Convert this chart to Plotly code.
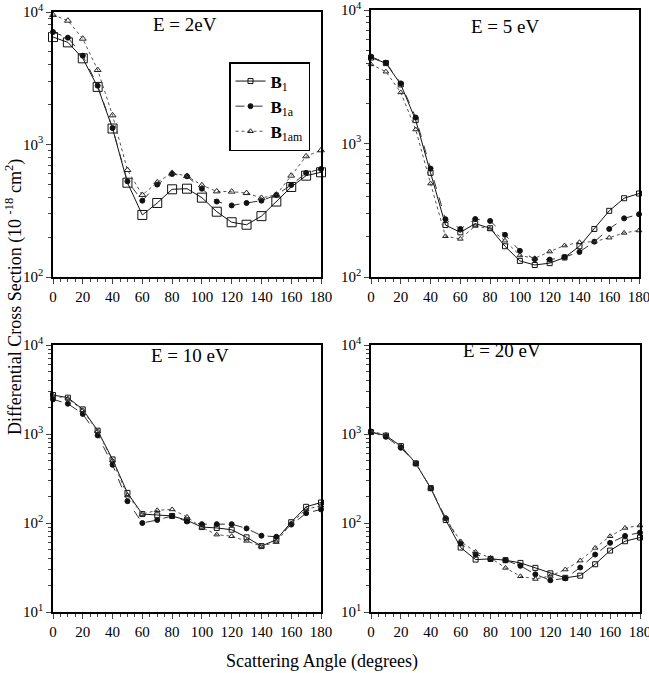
import plotly.graph_objects as go

angles = [0, 10, 20, 30, 40, 50, 60, 70, 80, 90, 100, 110, 120, 130, 140, 150, 160, 170, 180]

# E = 2 eV
b1_2 = [6470, 5900, 4470, 2720, 1320, 515, 294, 362, 459, 464, 397, 311, 259, 248, 288, 371, 478, 582, 617]
b1a_2 = [7060, 6400, 4680, 2780, 1330, 527, 377, 498, 599, 575, 464, 371, 347, 362, 377, 416, 495, 610, 653]
b1am_2 = [9500, 8600, 6290, 3650, 1660, 642, 416, 518, 610, 578, 492, 443, 441, 430, 395, 418, 582, 815, 904]

# E = 5 eV
b1_5 = [4400, 4000, 2770, 1496, 603, 245, 216, 251, 232, 170, 132, 123, 127, 140, 170, 229, 313, 389, 422]
b1a_5 = [4470, 4030, 2820, 1567, 649, 271, 229, 272, 263, 207, 157, 136, 135, 141, 154, 184, 229, 275, 295]
b1am_5 = [3913, 3450, 2413, 1273, 501, 202, 193, 241, 229, 187, 145, 138, 155, 172, 182, 184, 197, 214, 223]

# E = 10 eV
b1_10 = [2740, 2560, 1890, 1090, 518, 218, 126, 122, 120, 107, 90, 88, 84, 69, 55, 65, 102, 152, 170]
b1a_10 = [2450, 2190, 1680, 964, 451, 176, 100, 108, 120, 104, 97, 97, 97, 87, 72, 70, 96, 129, 142]
b1am_10 = [2700, 2500, 1850, 1070, 500, 204, 126, 139, 142, 117, 89, 74, 71, 63, 55, 61, 99, 143, 156]

# E = 20 eV
b1_20 = [1050, 960, 731, 467, 246, 108, 53, 38.8, 39.5, 38.2, 35.6, 31.3, 27.2, 24.2, 25.6, 34.4, 49, 62.4, 68.7]
b1a_20 = [1060, 930, 700, 467, 246, 113, 58.8, 44.2, 39.5, 38.2, 33, 26.5, 22.7, 23.9, 31.6, 44.2, 59.8, 71.6, 78]
b1am_20 = [1080, 972, 731, 467, 246, 113, 62, 47.3, 40.5, 31.3, 25.2, 23.5, 25.4, 30, 37.8, 52.5, 71, 88, 93.7]

panel_titles = ["E = 2eV", "E = 5 eV", "E = 10 eV", "E = 20 eV"]
series_names = ["<b>B</b><sub>1</sub>", "<b>B</b><sub>1a</sub>", "<b>B</b><sub>1am</sub>"]
x_ticks = [0, 20, 40, 60, 80, 100, 120, 140, 160, 180]
y_ticks_top = [100, 1000, 10000]
y_ticktext_top = ["10<sup>2</sup>", "10<sup>3</sup>", "10<sup>4</sup>"]
y_ticks_bot = [10, 100, 1000, 10000]
y_ticktext_bot = ["10<sup>1</sup>", "10<sup>2</sup>", "10<sup>3</sup>", "10<sup>4</sup>"]

W, H = 649, 673
FONT = "Liberation Serif"

def px_x(p):
    return p / W

def px_y(p):
    return 1 - p / H

panels = [
    dict(data=[b1_2, b1a_2, b1am_2], dom_x=(53, 321), dom_y=(12, 277), yr=(2, 4), big=True),
    dict(data=[b1_5, b1a_5, b1am_5], dom_x=(371, 639), dom_y=(10, 277), yr=(2, 4), big=False),
    dict(data=[b1_10, b1a_10, b1am_10], dom_x=(53, 321), dom_y=(345, 612), yr=(1, 4), big=False),
    dict(data=[b1_20, b1a_20, b1am_20], dom_x=(371, 640), dom_y=(345, 612), yr=(1, 4), big=False),
]

styles = [
    dict(line=dict(color="#111111", width=1, dash="solid"), symbol="square-open", mcolor="#111111"),
    dict(line=dict(color="#333333", width=1, dash="dash"), symbol="circle", mcolor="#111111"),
    dict(line=dict(color="#555555", width=1, dash="dot"), symbol="triangle-up-open", mcolor="#222222"),
]

fig = go.Figure()
layout = dict(
    width=W, height=H,
    margin=dict(l=0, r=0, t=0, b=0, autoexpand=False),
    paper_bgcolor="white", plot_bgcolor="white",
    font=dict(family=FONT, color="black", size=14),
    showlegend=True,
)

annotations = []
for i, p in enumerate(panels):
    n = i + 1
    xa = "x" if n == 1 else f"x{n}"
    ya = "y" if n == 1 else f"y{n}"
    for j, ser in enumerate(p["data"]):
        st = styles[j]
        if p["big"]:
            msize = [9, 5, 6][j]
        else:
            msize = [5, 5, 5][j]
        fig.add_trace(go.Scatter(
            x=angles, y=ser, mode="lines+markers",
            name=series_names[j],
            line=st["line"],
            marker=dict(symbol=st["symbol"], size=msize, color=st["mcolor"],
                        line=dict(width=1, color=st["mcolor"])),
            xaxis=xa, yaxis=ya, cliponaxis=False,
            showlegend=(n == 2), legendrank=j,
        ))
    top = p["yr"] == (2, 4)
    layout["xaxis" if n == 1 else f"xaxis{n}"] = dict(
        domain=[px_x(p["dom_x"][0]), px_x(p["dom_x"][1])],
        anchor=ya, range=[0, 180], automargin=False,
        tickvals=x_ticks, ticks="outside", ticklen=5, tickwidth=1,
        minor=dict(dtick=5, tick0=0, ticks="outside", ticklen=3, tickwidth=1),
        showline=True, linecolor="black", linewidth=1.5, mirror=True,
        showgrid=False, zeroline=False, ticklabeloverflow="allow",
        tickfont=dict(family=FONT, size=15), ticklabelstandoff=0,
    )
    layout["yaxis" if n == 1 else f"yaxis{n}"] = dict(
        domain=[px_y(p["dom_y"][1]), px_y(p["dom_y"][0])],
        anchor=xa, type="log", range=list(p["yr"]), automargin=False,
        tickvals=y_ticks_top if top else y_ticks_bot,
        ticktext=y_ticktext_top if top else y_ticktext_bot,
        ticks="outside", ticklen=5, tickwidth=1,
        minor=dict(dtick="D1", ticks="outside", ticklen=3, tickwidth=1),
        showline=True, linecolor="black", linewidth=1.5, mirror=True,
        showgrid=False, zeroline=False, ticklabeloverflow="allow",
        tickfont=dict(family=FONT, size=15), ticklabelstandoff=0,
    )

# panel titles
title_pos = [(185, 25), (505, 27), (190, 355), (502, 350)]
for t, (tx, ty) in zip(panel_titles, title_pos):
    annotations.append(dict(
        text=t, x=px_x(tx), y=px_y(ty), xref="paper", yref="paper",
        showarrow=False, xanchor="center", yanchor="middle",
        font=dict(family=FONT, size=19, color="black"),
    ))

annotations.append(dict(
    text="Scattering Angle (degrees)", x=px_x(322), y=px_y(661),
    xref="paper", yref="paper", showarrow=False,
    xanchor="center", yanchor="middle",
    font=dict(family=FONT, size=18, color="black"),
))
annotations.append(dict(
    text="Differential Cross Section (10 <sup>-18</sup> cm<sup>2</sup>)",
    x=px_x(14), y=px_y(297), xref="paper", yref="paper", showarrow=False,
    xanchor="center", yanchor="middle", textangle=-90,
    font=dict(family=FONT, size=18, color="black"),
))
layout["annotations"] = annotations

layout["legend"] = dict(
    x=px_x(229), y=px_y(62), xanchor="left", yanchor="top",
    bgcolor="white", bordercolor="black", borderwidth=1.5,
    font=dict(family=FONT, size=17, color="black"),
    itemwidth=30, tracegroupgap=0,
)
layout["shapes"] = [dict(
    type="rect", xref="paper", yref="paper",
    x0=px_x(233), x1=px_x(310), y0=px_y(147), y1=px_y(66),
    fillcolor="black", line=dict(width=0), layer="above",
)]

fig.update_layout(**layout)
fig.write_html(
    "out.html",
    config={"displayModeBar": False},
    post_script="document.body.style.margin='0';document.body.style.overflow='hidden';",
)
